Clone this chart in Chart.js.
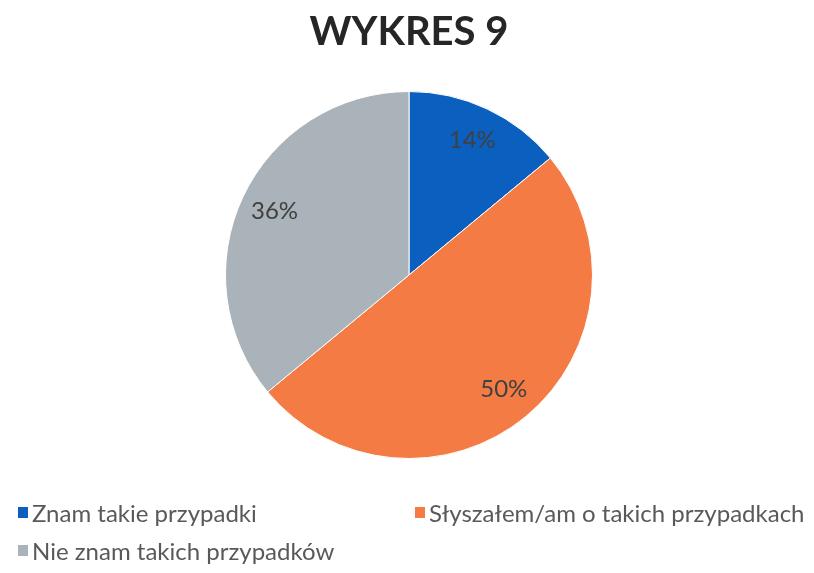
<!DOCTYPE html>
<html>
<head>
<meta charset="utf-8">
<script src="https://cdn.jsdelivr.net/npm/chart.js"></script>
<style>
  html, body { margin: 0; padding: 0; background: #fff; }
  #wrap { position: relative; width: 814px; height: 573px; }
  #legend { position: absolute; left: 18px; top: 498px; width: 796px; font-family: Lato, sans-serif; font-size: 24px; color: #595959; }
  .item { position: absolute; white-space: nowrap; display: flex; align-items: center; }
  .box { width: 10px; height: 11px; margin-right: 4px; }
</style>
</head>
<body>
<div id="wrap">
  <canvas id="myChart" width="814" height="573"></canvas>
  <div id="legend"></div>
</div>
<script>
// data
const categories = ['Znam takie przypadki', 'Słyszałem/am o takich przypadkach', 'Nie znam takich przypadków'];
const values = [14, 50, 36];
const colors = ['#0b60bf', '#f47b44', '#a9b3b9'];

// labels inside the slices, placed with the arc geometry
const sliceLabels = {
    id: 'sliceLabels',
    afterDatasetsDraw(chart) {
        const ctx = chart.ctx;
        const meta = chart.getDatasetMeta(0);
        ctx.save();
        ctx.font = '24px Lato, sans-serif';
        ctx.fillStyle = '#404040';
        ctx.textAlign = 'center';
        ctx.textBaseline = 'middle';
        meta.data.forEach((arc, i) => {
            const p = arc.getProps(['x', 'y', 'startAngle', 'endAngle', 'outerRadius'], true);
            const mid = (p.startAngle + p.endAngle) / 2;
            const r = p.outerRadius * 0.81;
            ctx.fillText(values[i] + '%', p.x + Math.cos(mid) * r, p.y + Math.sin(mid) * r);
        });
        ctx.restore();
    }
};

const ctx = document.getElementById('myChart').getContext('2d');
const chart = new Chart(ctx, {
    type: 'pie',
    data: {
        labels: categories,
        datasets: [{
            data: values,
            backgroundColor: colors,
            borderColor: '#ffffff',
            borderWidth: 1
        }]
    },
    options: {
        responsive: false,
        animation: false,
        layout: { padding: { top: 0, bottom: 114, left: 4, right: 0 } },
        plugins: {
            legend: { display: false },
            tooltip: { enabled: false },
            title: {
                display: true,
                text: 'WYKRES 9',
                color: '#262626',
                font: { family: 'Lato', size: 40, weight: 'bold' },
                padding: { top: 8, bottom: 35 }
            }
        }
    },
    plugins: [sliceLabels]
});

// legend built from the same arrays
const legend = document.getElementById('legend');
const spots = [[0, 0], [397, 0], [0, 38]];
categories.forEach((name, i) => {
    const el = document.createElement('div');
    el.className = 'item';
    el.style.left = spots[i][0] + 'px';
    el.style.top = spots[i][1] + 'px';
    el.innerHTML = '<span class="box" style="background:' + colors[i] + '"></span>' + name;
    legend.appendChild(el);
});
</script>
</body>
</html>
